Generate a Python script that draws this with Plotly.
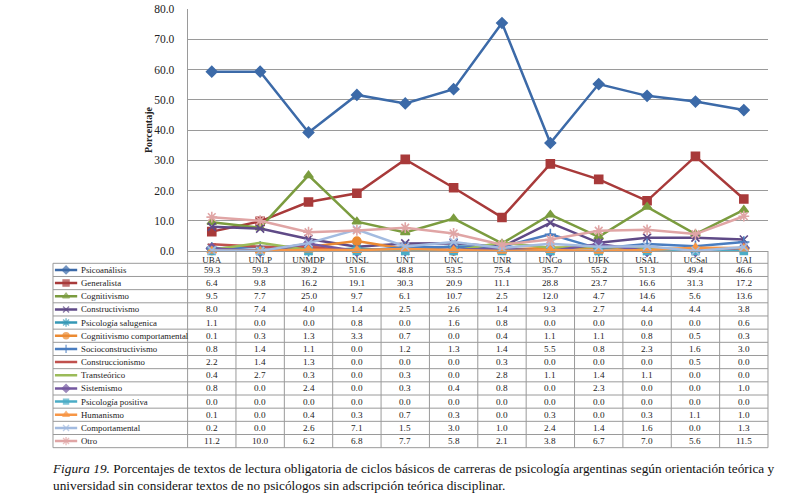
import plotly.graph_objects as go

universidades = ["UBA", "UNLP", "UNMDP", "UNSL", "UNT", "UNC", "UNR", "UNCo", "UJFK", "USAL", "UCSal", "UAI"]

psicoanalisis = [59.3, 59.3, 39.2, 51.6, 48.8, 53.5, 75.4, 35.7, 55.2, 51.3, 49.4, 46.6]
generalista = [6.4, 9.8, 16.2, 19.1, 30.3, 20.9, 11.1, 28.8, 23.7, 16.6, 31.3, 17.2]
cognitivismo = [9.5, 7.7, 25.0, 9.7, 6.1, 10.7, 2.5, 12.0, 4.7, 14.6, 5.6, 13.6]
constructivismo = [8.0, 7.4, 4.0, 1.4, 2.5, 2.6, 1.4, 9.3, 2.7, 4.4, 4.4, 3.8]
psicologia_salugenica = [1.1, 0.0, 0.0, 0.8, 0.0, 1.6, 0.8, 0.0, 0.0, 0.0, 0.0, 0.6]
cognitivismo_comportamental = [0.1, 0.3, 1.3, 3.3, 0.7, 0.0, 0.4, 1.1, 1.1, 0.8, 0.5, 0.3]
socioconstructivismo = [0.8, 1.4, 1.1, 0.0, 1.2, 1.3, 1.4, 5.5, 0.8, 2.3, 1.6, 3.0]
construccionismo = [2.2, 1.4, 1.3, 0.0, 0.0, 0.0, 0.3, 0.0, 0.0, 0.0, 0.5, 0.0]
transteorico = [0.4, 2.7, 0.3, 0.0, 0.3, 0.0, 2.8, 1.1, 1.4, 1.1, 0.0, 0.0]
sistemismo = [0.8, 0.0, 2.4, 0.0, 0.3, 0.4, 0.8, 0.0, 2.3, 0.0, 0.0, 1.0]
psicologia_positiva = [0.0, 0.0, 0.0, 0.0, 0.0, 0.0, 0.0, 0.0, 0.0, 0.0, 0.0, 0.0]
humanismo = [0.1, 0.0, 0.4, 0.3, 0.7, 0.3, 0.0, 0.3, 0.0, 0.3, 1.1, 1.0]
comportamental = [0.2, 0.0, 2.6, 7.1, 1.5, 3.0, 1.0, 2.4, 1.4, 1.6, 0.0, 1.3]
otro = [11.2, 10.0, 6.2, 6.8, 7.7, 5.8, 2.1, 3.8, 6.7, 7.0, 5.6, 11.5]

series_names = ["Psicoanálisis", "Generalista", "Cognitivismo", "Constructivismo",
                "Psicología salugenica", "Cognitivismo comportamental", "Socioconstructivismo",
                "Construccionismo", "Transteórico", "Sistemismo", "Psicología positiva",
                "Humanismo", "Comportamental", "Otro"]
series_values = [psicoanalisis, generalista, cognitivismo, constructivismo,
                 psicologia_salugenica, cognitivismo_comportamental, socioconstructivismo,
                 construccionismo, transteorico, sistemismo, psicologia_positiva,
                 humanismo, comportamental, otro]

y_ticks = [0, 10, 20, 30, 40, 50, 60, 70, 80]

# styles
colors = ["#3C6AA8", "#A83A3A", "#7B9C3F", "#5F4A87", "#3598B6", "#EB8A32", "#4A7DC0",
          "#C0504D", "#9BBB59", "#7458A0", "#4BACC6", "#F79646", "#A3BBE0", "#E0A5A5"]
symbols = ["diamond", "square", "triangle-up", "x-thin-open", "asterisk-open", "circle",
           "cross-thin-open", "line-ew-open", "line-ew-open", "diamond", "square",
           "triangle-up", "x-thin-open", "asterisk-open"]
sizes = [8, 8, 8, 8, 9, 8, 8, 6, 4, 8, 7, 8, 8, 9]

W, H = 800, 498
SERIF = "Liberation Serif, Times New Roman, serif"
GRID = "#9A9A9A"
TXT = "#222222"
TAB_FS = 9.2
KEY_FS = 8.8


def fx(px):
    return px / W


def fy(py):
    return 1 - py / H


# chart geometry (reference px)
px_left, px_right = 187.6, 768.0
px_top, px_bottom = 9.0, 251.0
n = len(universidades)
colw = (px_right - px_left) / n

# table geometry (reference px)
tab_left = 53.0
tab_header_top = px_bottom
tab_rows_top = 263.3
row_h = 13.17
nrows = len(series_names)
L = -0.5 - (px_left - tab_left) / colw   # left edge of table in column units
R = n - 0.5

fig = go.Figure()

for name, vals, c, s, sz in zip(series_names, series_values, colors, symbols, sizes):
    fig.add_trace(go.Scatter(
        x=universidades, y=vals, name=name, mode="lines+markers",
        line=dict(color=c, width=2.5),
        marker=dict(symbol=s, size=sz, color=c, line=dict(color=c, width=1.6)),
        showlegend=False, xaxis="x", yaxis="y", cliponaxis=False))

# legend keys inside the table
for r, (name, c, s, sz) in enumerate(zip(series_names, colors, symbols, sizes)):
    fig.add_trace(go.Scatter(
        x=[L + 0.04, L + 0.27, L + 0.5], y=[r + 0.5] * 3, mode="lines+markers",
        line=dict(color=c, width=2.5),
        marker=dict(symbol=s, size=[0, max(sz - 2, 4), 0], color=c, line=dict(color=c, width=1.4)),
        showlegend=False, xaxis="x2", yaxis="y2", hoverinfo="skip", cliponaxis=False))

# table axes
x2_lo, x2_hi = L - 0.12, R + 0.12
x2_dom = [fx(px_left + (x2_lo + 0.5) * colw), fx(px_left + (x2_hi + 0.5) * colw)]
y2_lo, y2_hi = 14.3, -1.05
y2_dom = [fy(tab_rows_top + y2_lo * row_h), fy(tab_rows_top + y2_hi * row_h)]
hdr = (tab_rows_top - tab_header_top) / row_h

shapes = []
line_style = dict(color=GRID, width=1)
for k in range(nrows + 1):
    shapes.append(dict(type="line", xref="x2", yref="y2", x0=L, x1=R, y0=k, y1=k, line=line_style))
shapes.append(dict(type="line", xref="x2", yref="y2", x0=L, x1=L, y0=0, y1=nrows, line=line_style))
for k in range(n + 1):
    shapes.append(dict(type="line", xref="x2", yref="y2", x0=k - 0.5, x1=k - 0.5,
                       y0=-hdr, y1=nrows, line=line_style))

annotations = []
for r, (name, vals) in enumerate(zip(series_names, series_values)):
    annotations.append(dict(xref="x2", yref="y2", x=L + 0.53, y=r + 0.5, text=name,
                            showarrow=False, xanchor="left", yanchor="middle",
                            font=dict(family=SERIF, size=KEY_FS, color=TXT)))
    for i, v in enumerate(vals):
        annotations.append(dict(xref="x2", yref="y2", x=i, y=r + 0.5, text=f"{v:.1f}",
                                showarrow=False, xanchor="center", yanchor="middle",
                                font=dict(family=SERIF, size=TAB_FS, color=TXT)))

annotations.append(dict(xref="paper", yref="paper", x=fx(148), y=fy(130),
                        text="<b>Porcentaje</b>", textangle=-90, showarrow=False,
                        xanchor="center", yanchor="middle",
                        font=dict(family=SERIF, size=10, color=TXT)))

annotations.append(dict(xref="paper", yref="paper", x=fx(50), y=fy(459),
                        xanchor="left", yanchor="top", align="left", showarrow=False,
                        text="<i>Figura 19.</i> Porcentajes de textos de lectura obligatoria de ciclos básicos de carreras de psicología argentinas según orientación teórica y<br>universidad sin considerar textos de no psicólogos sin adscripción teórica disciplinar.",
                        font=dict(family=SERIF, size=13.3, color="#111")))

fig.update_layout(
    width=W, height=H, margin=dict(l=0, r=0, t=0, b=0, autoexpand=False),
    paper_bgcolor="white", plot_bgcolor="rgba(0,0,0,0)",
    font=dict(family=SERIF),
    xaxis=dict(domain=[fx(px_left), fx(px_right)], type="category",
               categoryorder="array", categoryarray=universidades,
               range=[-0.5, n - 0.5], autorange=False,
               showgrid=False, showline=True, linecolor=GRID, linewidth=1,
               ticks="", tickfont=dict(family=SERIF, size=9, color=TXT),
               ticklabelstandoff=0, zeroline=False, anchor="y", automargin=False),
    yaxis=dict(domain=[fy(px_bottom), fy(px_top)], range=[0, 80.02], autorange=False,
               tickvals=y_ticks, tickformat=".1f",
               showgrid=True, gridcolor=GRID, gridwidth=1,
               showline=True, linecolor=GRID, linewidth=1, zeroline=False,
               ticks="", ticklabelstandoff=10, automargin=False,
               tickfont=dict(family=SERIF, size=11.5, color=TXT), anchor="x"),
    xaxis2=dict(domain=x2_dom, range=[x2_lo, x2_hi], visible=False, anchor="y2", automargin=False),
    yaxis2=dict(domain=y2_dom, range=[y2_lo, y2_hi], visible=False, anchor="x2", automargin=False),
    shapes=shapes, annotations=annotations, showlegend=False,
)

# the default page has an 8px body margin; remove it so the figure sits at the window origin
fig.write_html("out.html", config={"displayModeBar": False},
               post_script="document.body.style.margin='0';")
